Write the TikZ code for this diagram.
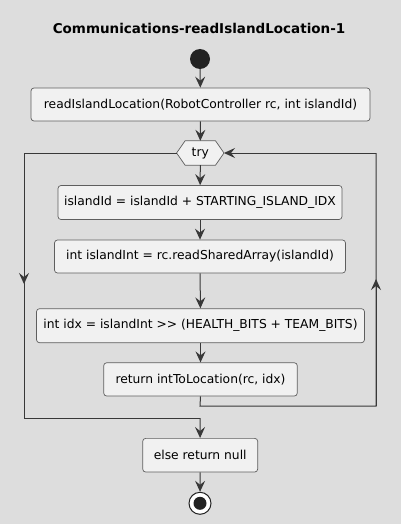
\documentclass[tikz,border=0pt]{standalone}
\usepackage{fontspec}
\setmainfont{DejaVu Sans}
\usetikzlibrary{arrows.meta}
\definecolor{bg}{HTML}{DDDDDD}
\definecolor{boxfill}{HTML}{F1F1F1}
\definecolor{boxline}{HTML}{5E5E5E}
\definecolor{lnk}{HTML}{383838}
\definecolor{dot}{HTML}{222222}
\tikzset{
  actbox/.style={draw=boxline, fill=boxfill, rounded corners=3pt, line width=0.7pt,
    inner sep=0pt, font=\fontsize{12.3}{14}\selectfont, text=black},
  flow/.style={draw=lnk, line width=1pt},
  arr/.style={flow, -{Stealth[length=11pt,width=10pt,inset=4pt]}},
  midarr/.style={draw=lnk, line width=1pt, -{Stealth[length=11pt,width=10pt,inset=4pt]}}
}
\begin{document}
\begin{tikzpicture}[x=1pt,y=-1pt]
\fill[bg] (0,0) rectangle (401,524);
\useasboundingbox (0,0) rectangle (401,524);
\node[font=\bfseries\fontsize{13.5}{16}\selectfont] (title) at (199,28) {Communications-readIslandLocation-1};
\node[circle, fill=dot, minimum size=20pt, inner sep=0pt] (start) at (200,59) {};
\node[actbox, minimum width=339pt, minimum height=33pt] (b1) at (200.5,104.5) {readIslandLocation(RobotController rc, int islandId)};
\node[minimum width=47pt, minimum height=24pt, inner sep=0pt, font=\fontsize{12.3}{14}\selectfont] (try) at (200.3,153) {try};
\filldraw[draw=boxline, fill=boxfill, line width=0.7pt]
  (try.west) -- ([xshift=8.5pt]try.north west) -- ([xshift=-8.5pt]try.north east) -- (try.east)
  -- ([xshift=-8.5pt]try.south east) -- ([xshift=8.5pt]try.south west) -- cycle;
\node[font=\fontsize{12.3}{14}\selectfont] at (try) {try};
\node[actbox, minimum width=284pt, minimum height=34pt] (b2) at (200,202.5) {islandId = islandId + STARTING\_ISLAND\_IDX};
\node[actbox, minimum width=291pt, minimum height=33pt] (b3) at (200,256.5) {int islandInt = rc.readSharedArray(islandId)};
\node[actbox, minimum width=328pt, minimum height=34pt] (b4) at (200.5,325.7) {int idx = islandInt >{}> (HEALTH\_BITS + TEAM\_BITS)};
\node[actbox, minimum width=193.6pt, minimum height=33.3pt] (b5) at (200.5,379.4) {return intToLocation(rc, idx)};
\node[actbox, minimum width=115pt, minimum height=33.7pt] (b6) at (200.2,455.2) {else return null};
\node[circle, draw=dot, fill=white, line width=1pt, minimum size=22pt, inner sep=0pt] (stop) at (200,503.3) {};
\fill[dot] (stop) circle (6.5pt);
% coordinates for loops
\coordinate (L1) at (24,153);
\coordinate (Lm) at (24,284);
\coordinate (L2) at (24,418);
\coordinate (M) at (200,418);
\coordinate (R0) at (200,406);
\coordinate (R1) at (376,406);
\coordinate (Rm) at (376,279);
\coordinate (R2) at (376,153);
% connectors
\draw[arr] (start) -- (b1);
\draw[arr] (b1) -- (try.north);
\draw[arr] (try.south) -- (b2);
\draw[arr] (b2) -- (b3);
\draw[arr] (b3) -- (b4);
\draw[arr] (b4) -- (b5);
\draw[flow] (try.west) -- (L1) -- (L2) -- (M);
\draw[midarr] (L1) -- (Lm);
\draw[arr] (M) -- (b6);
\draw[flow] (b5.south) -- (R0) -- (R1) -- (R2);
\draw[midarr] (R1) -- (Rm);
\draw[arr] (R2) -- (try.east);
\draw[arr] (b6) -- (stop);
\end{tikzpicture}
\end{document}
